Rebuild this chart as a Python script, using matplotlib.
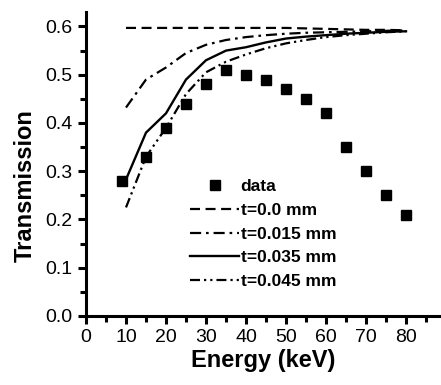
import matplotlib
matplotlib.use("Agg")
import matplotlib.pyplot as plt
from matplotlib.ticker import MultipleLocator

energy_data = [9, 15, 20, 25, 30, 35, 40, 45, 50, 55, 60, 65, 70, 75, 80]
trans_data = [0.28, 0.33, 0.39, 0.44, 0.48, 0.51, 0.50, 0.49, 0.47, 0.45, 0.42, 0.35, 0.30, 0.25, 0.21]

energy_model = [10, 15, 20, 25, 30, 35, 40, 45, 50, 55, 60, 65, 70, 75, 80]
t0 = [0.597, 0.597, 0.597, 0.597, 0.597, 0.597, 0.597, 0.597, 0.597, 0.596, 0.595, 0.594, 0.593, 0.593, 0.592]
t015 = [0.432, 0.49, 0.515, 0.545, 0.562, 0.572, 0.578, 0.582, 0.585, 0.587, 0.588, 0.589, 0.590, 0.591, 0.592]
t035 = [0.283, 0.38, 0.42, 0.49, 0.53, 0.55, 0.557, 0.567, 0.575, 0.579, 0.582, 0.585, 0.587, 0.589, 0.590]
t045 = [0.225, 0.33, 0.39, 0.46, 0.505, 0.527, 0.542, 0.555, 0.565, 0.572, 0.578, 0.582, 0.585, 0.588, 0.590]

plt.rcParams['font.family'] = ['Liberation Sans', 'DejaVu Sans']

fig = plt.figure(figsize=(4.41, 3.85), dpi=100)
ax = fig.add_axes([86/441, 69/385, 354/441, 304/385])

ax.plot(energy_data, trans_data, 's', color='black', markersize=7.5, linestyle='none', label='data')
ax.plot(energy_model, t0, color='black', lw=1.6, linestyle=(0, (4.5, 2.5)), label='t=0.0 mm')
ax.plot(energy_model, t015, color='black', lw=1.6, linestyle=(0, (5, 2.2, 1.2, 2.2)), label='t=0.015 mm')
ax.plot(energy_model, t035, color='black', lw=1.7, linestyle='-', label='t=0.035 mm')
ax.plot(energy_model, t045, color='black', lw=1.6, linestyle=(0, (4.5, 1.8, 1, 1.8, 1, 1.8)), label='t=0.045 mm')

ax.set_xlim(0, 88.5)
ax.set_ylim(0, 0.63)
ax.xaxis.set_major_locator(MultipleLocator(10))
ax.xaxis.set_minor_locator(MultipleLocator(5))
ax.yaxis.set_major_locator(MultipleLocator(0.1))
ax.yaxis.set_minor_locator(MultipleLocator(0.05))
ax.yaxis.set_major_formatter(matplotlib.ticker.FormatStrFormatter('%.1f'))

for s in ['top', 'right']:
    ax.spines[s].set_visible(False)
for s in ['left', 'bottom']:
    ax.spines[s].set_linewidth(2.2)

ax.tick_params(which='major', length=6, width=2.2, labelsize=14, direction='out')
ax.tick_params(which='minor', length=4, width=2.2, direction='out')

ax.set_xlabel('Energy (keV)', fontsize=17, fontweight='bold', labelpad=2)
ax.set_ylabel('Transmission', fontsize=17, fontweight='bold', labelpad=4)
ax.yaxis.set_label_coords(-0.14, 0.43)

leg = ax.legend(loc='lower left', bbox_to_anchor=(0.275, 0.065), frameon=False,
                prop={'weight': 'bold', 'size': 12.5},
                handlelength=2.8, handletextpad=0.1, labelspacing=0.5, borderaxespad=0)

fig.savefig('out.png', dpi=100)
